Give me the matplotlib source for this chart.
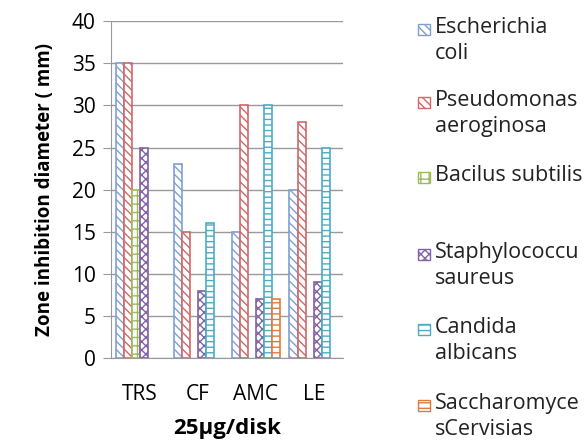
import numpy as np
import matplotlib
matplotlib.use("Agg")
import matplotlib.pyplot as plt
from matplotlib.patches import Rectangle

plt.rcParams['font.family'] = ['Open Sans', 'DejaVu Sans']
plt.rcParams['hatch.linewidth'] = 1.0

# data
categories = ['TRS', 'CF', 'AMC', 'LE']
series = ['Escherichia\ncoli', 'Pseudomonas\naeroginosa', 'Bacilus subtilis',
          'Staphylococcu\nsaureus', 'Candida\nalbicans', 'Saccharomyce\nsCervisias']
ecoli = [35, 23, 15, 20]
pseudo = [35, 15, 30, 28]
bacillus = [20, 0, 0, 0]
staph = [25, 8, 7, 9]
candida = [0, 16, 30, 25]
sacch = [0, 0, 7, 0]
values = [ecoli, pseudo, bacillus, staph, candida, sacch]

colors = ['#7f9fd3', '#d0686a', '#9bbb59', '#8064a2', '#4bacc6', '#e07b39']
hatches = ['\\\\\\\\', '\\\\\\\\', '++', 'xxxx', '---', '---']

fig = plt.figure(figsize=(5.87, 4.42), dpi=100)
ax = fig.add_axes([0.189, 0.19, 0.395, 0.762])

x = np.arange(len(categories))
w = 0.14
for i, vals in enumerate(values):
    vals = np.array(vals, dtype=float)
    keep = vals > 0   # empty cells are not drawn
    ax.bar((x + (i - 2.5) * w)[keep], vals[keep], w, color='white',
           edgecolor=colors[i], hatch=hatches[i], linewidth=1.2, zorder=3)

ax.set_xlim(-0.5, 3.5)
ax.set_ylim(0, 40)
ax.set_yticks(np.arange(0, 41, 5))
ax.set_xticks(x)
ax.set_xticklabels(categories)
ax.grid(axis='y', color='#999999', linewidth=1, zorder=0)
for s in ['top', 'right']:
    ax.spines[s].set_visible(False)
for s in ['left', 'bottom']:
    ax.spines[s].set_color('#999999')
ax.tick_params(axis='y', length=6, color='#999999', labelsize=15, pad=5)
ax.tick_params(axis='x', length=0, labelsize=15, pad=19)
ax.set_xlabel('25µg/disk', fontsize=16, fontweight='bold', labelpad=9)
ax.set_ylabel('Zone inhibition diameter ( mm)', fontsize=13.5, fontweight='bold', labelpad=12)

# legend drawn by hand to copy the uneven spacing (first-line centres in px)
legend_y = [29, 102, 177, 254, 329, 405]
for i, lab in enumerate(series):
    yf = 1 - legend_y[i] / 442
    fig.patches.append(Rectangle((418 / 587, yf - 6 / 442), 12 / 587, 11 / 442,
                                 transform=fig.transFigure, facecolor='white',
                                 edgecolor=colors[i], hatch=hatches[i], linewidth=1))
    fig.text(435 / 587, yf + 12 / 442, lab, fontsize=15.5, va='top', ha='left',
             linespacing=1.3, color='#222222')

fig.savefig('out.png', dpi=100)
